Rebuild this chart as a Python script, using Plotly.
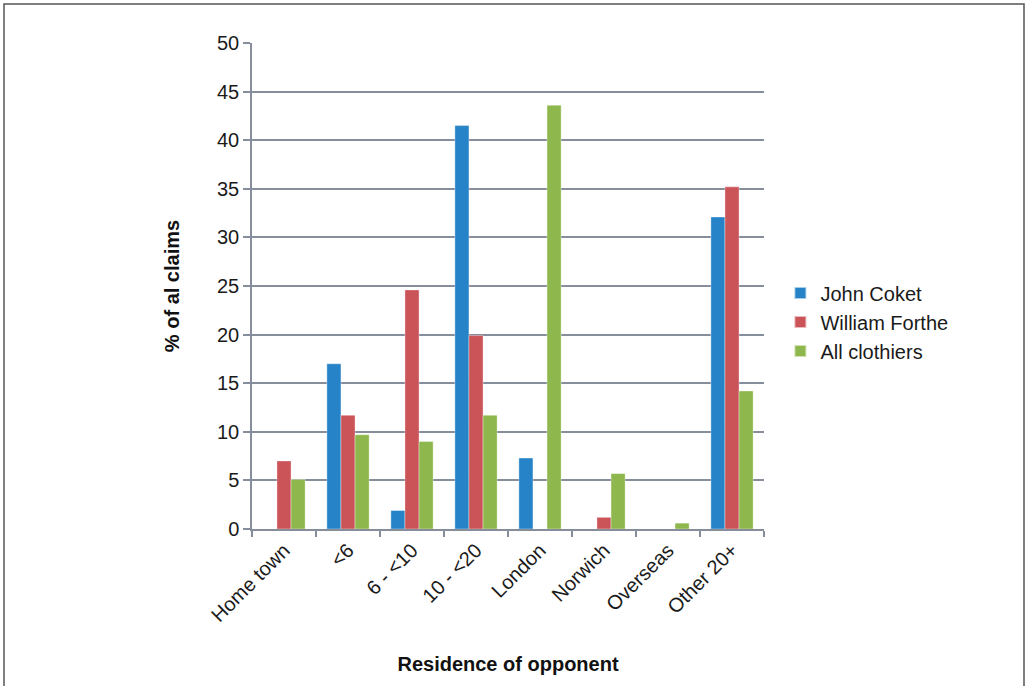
import plotly.graph_objects as go

categories = ["Home town", "<6", "6 - <10", "10 - <20", "London", "Norwich", "Overseas", "Other 20+"]
john_coket = [0, 17.0, 1.9, 41.5, 7.3, 0, 0, 32.1]
william_forthe = [7.0, 11.7, 24.6, 19.9, 0, 1.2, 0, 35.2]
all_clothiers = [5.1, 9.7, 9.0, 11.7, 43.6, 5.7, 0.6, 14.2]
y_ticks = [0, 5, 10, 15, 20, 25, 30, 35, 40, 45, 50]

series = [
    ("John Coket", john_coket, "#2783C7"),
    ("William Forthe", william_forthe, "#CB5459"),
    ("All clothiers", all_clothiers, "#8EB74D"),
]

fig = go.Figure()
for name, vals, col in series:
    fig.add_trace(go.Bar(
        name=name, x=categories, y=vals,
        marker=dict(color=col, line=dict(color="rgba(255,255,255,0.6)", width=0.6)),
    ))

axis_col = "#868D9B"
font_fam = "Liberation Sans, Arial, sans-serif"

fig.update_layout(
    width=1026, height=686,
    margin=dict(l=252, r=262, t=43, b=157),
    paper_bgcolor="white", plot_bgcolor="white",
    barmode="group", bargap=0.34, bargroupgap=0,
    font=dict(family=font_fam, color="#1a1a1a", size=20),
    showlegend=True,
    legend=dict(x=1.032, y=0.426, xanchor="left", yanchor="middle",
                font=dict(size=20, family=font_fam, color="#1a1a1a"),
                tracegroupgap=0, itemsizing="constant"),
    xaxis=dict(
        type="category", tickson="boundaries", ticks="outside", ticklen=6,
        tickcolor=axis_col, tickwidth=1.5, showline=True, linecolor=axis_col, linewidth=1.5,
        tickangle=-45, tickfont=dict(size=20, family=font_fam, color="#1a1a1a"),
        title=dict(text="<b>Residence of opponent</b>", font=dict(size=20, family=font_fam, color="#111"), standoff=32),
        showgrid=False,
    ),
    yaxis=dict(
        range=[0, 50], tickvals=y_ticks, ticks="outside", ticklen=7,
        tickcolor=axis_col, tickwidth=1.5, showline=True, linecolor=axis_col, linewidth=1.5,
        showgrid=True, gridcolor=axis_col, gridwidth=1.5, zeroline=False,
        tickfont=dict(size=20, family=font_fam, color="#1a1a1a"),
        title=dict(text="<b>% of al claims</b>", font=dict(size=20, family=font_fam, color="#111"), standoff=32),
    ),
    shapes=[dict(type="rect", xref="paper", yref="paper",
                 x0=(4 - 252) / 512, x1=(1024 - 252) / 512,
                 y0=(529 - 700) / 486, y1=(529 - 4) / 486,
                 line=dict(color="#555555", width=1.5), fillcolor="rgba(0,0,0,0)", layer="below")],
)

fig.write_html("out.html")
